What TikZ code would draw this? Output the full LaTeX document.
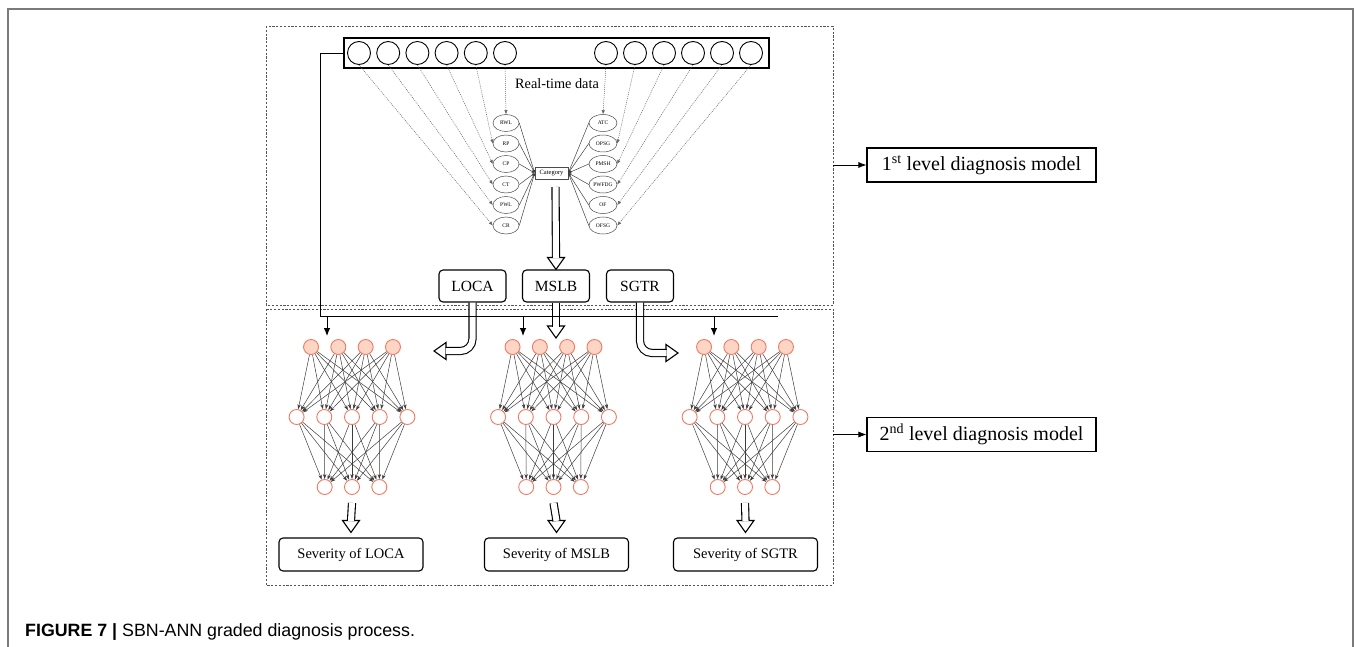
\documentclass[tikz,border=0pt]{standalone}
\usepackage{fontspec}
\setmainfont{Liberation Serif}
\newfontfamily\capfont{Liberation Sans}
\usetikzlibrary{arrows.meta,shapes.geometric,calc}
\definecolor{frameg}{HTML}{7A7A7A}
\definecolor{dashg}{HTML}{555555}
\definecolor{nodeedge}{HTML}{F07A62}
\definecolor{nodefill}{HTML}{FCD5C4}
\definecolor{edgeg}{HTML}{3C3C3C}
\tikzset{
  inbubble/.style={circle,draw,line width=0.9,minimum size=23,inner sep=0},
  varell/.style={ellipse,draw=black!70,line width=0.5,minimum width=26,minimum height=17,inner sep=0,font=\fontsize{5.5}{5.5}\selectfont},
  faultbox/.style={draw,rounded corners=4,line width=1.1,minimum width=67,minimum height=32,font=\fontsize{15.5}{16}\selectfont},
  sevbox/.style={draw,rounded corners=4,line width=1.1,minimum width=144,minimum height=33,font=\fontsize{14.5}{15}\selectfont},
  levelbox/.style={draw,line width=1.1,minimum width=229,minimum height=34,font=\fontsize{20}{21}\selectfont},
  neuron/.style={circle,draw=nodeedge,fill=white,line width=0.9,minimum size=15,inner sep=0},
  inneuron/.style={neuron,fill=nodefill},
  dashbox/.style={draw=dashg,line width=0.8,dash pattern=on 2.2pt off 1.6pt},
  dotarr/.style={black!60,line width=0.5,dash pattern=on 1pt off 1pt,-{Latex[length=4pt,width=3.5pt]}},
  wire/.style={edgeg,line width=0.5,-{Stealth[length=5pt,width=3.4pt]}},
  hollow/.style={draw=black,double=white,double distance=6pt,line width=1.1},
  hhead/.pic={\draw[fill=white,line width=1.1,line join=miter] (-12,-8.5)--(0,0)--(-12,8.5)--cycle;},
}
\begin{document}
\begin{tikzpicture}[x=1pt,y=-1pt]
\useasboundingbox (0,0) rectangle (1356,647);
\draw[frameg,line width=1.5] (8,647)--(8,9)--(1353,9)--(1353,647);
\draw[dashbox] (266,26) rectangle (833,305);
\draw[dashbox] (266,309) rectangle (833,585);
%
% input layer and variables
\node[draw,line width=1.6,minimum width=425,minimum height=30,inner sep=0] (bar) at (556.5,53) {};
\foreach \i in {0,...,5} \node[inbubble] (in\i) at ({359+29.2*\i},53) {};
\foreach \i in {0,...,5} \node[inbubble] (r\i) at ({606+29*\i},53) {};
\node[font=\fontsize{14.3}{15}\selectfont] (rtd) at (557,84) {Real-time data};
\foreach \t [count=\i] in {RWL,RP,CP,CT,PWL,CR}
  \node[varell] (l\i) at (506,{123+20.5*(\i-1)}) {\t};
\foreach \t [count=\i] in {ATC,OPSG,PMSH,PWFDG,OF,OFSG}
  \node[varell,minimum width=28] (e\i) at (603,{123+20.5*(\i-1)}) {\t};
\node[draw=black!70,line width=0.6,minimum width=33,minimum height=12,inner sep=0,font=\fontsize{6.5}{6.5}\selectfont] (cat) at (551.5,173) {Category};
\foreach \i in {1,...,6} {
  \draw[black!75,line width=0.5,-{Latex[length=3pt,width=2.5pt]}] (l\i.east) -- (cat.west);
  \draw[black!75,line width=0.5,-{Latex[length=3pt,width=2.5pt]}] (e\i.west) -- (cat.east);
}
\draw[dotarr] (in5.south) -- (l1.north);
\draw[dotarr] (r0.south) -- (e1.north);
\foreach \k in {2,...,6} {
  \pgfmathtruncatemacro\s{6-\k}
  \draw[dotarr] (in\s.south) -- (l\k.west);
  \pgfmathtruncatemacro\s{\k-1}
  \draw[dotarr] (r\s.south) -- (e\k.east);
}
%
% first level result
\node[faultbox] (loca) at (472.5,286) {LOCA};
\node[faultbox] (mslb) at (556,286) {MSLB};
\node[faultbox] (sgtr) at (640,286) {SGTR};
\pic[rotate=-90] at (mslb.north) {hhead};
\draw[hollow] (555.5,187) -- ($(mslb.north)+(0,-11.5)$);
%
% networks
\foreach \cx [count=\n] in {352,553.5,745} {
  \foreach \i in {1,...,4} \node[inneuron] (a\n\i) at ({\cx+(\i-2.5)*27.3},347) {};
  \foreach \j in {1,...,5} \node[neuron] (b\n\j) at ({\cx+(\j-3)*27.7},417) {};
  \foreach \k in {1,2,3} \node[neuron] (c\n\k) at ({\cx+(\k-2)*27.3},487) {};
  \foreach \i in {1,...,4} \foreach \j in {1,...,5} \draw[wire] (a\n\i) -- (b\n\j);
  \foreach \j in {1,...,5} \foreach \k in {1,2,3} \draw[wire] (b\n\j) -- (c\n\k);
}
\node[sevbox] (sev1) at (351,554.5) {Severity of LOCA};
\node[sevbox] (sev2) at (556.5,554.5) {Severity of MSLB};
\node[sevbox] (sev3) at (745.5,554.5) {Severity of SGTR};
\foreach \n in {1,2,3} {
  \pic[rotate=-90] at ($(sev\n.north)+(0,-5)$) {hhead};
  \draw[hollow] ($(c\n2.south)+(0,8)$) -- ($(sev\n.north)+(0,-16.5)$);
}
%
% hollow arrows into the networks
\pic[rotate=-90] at (556,338) {hhead};
\draw[hollow] (mslb.south) -- (556,326.5);
\pic[rotate=180] at (434,351) {hhead};
\draw[hollow,rounded corners=12] (loca.south) |- (445.5,351);
\pic at (678,353) {hhead};
\draw[hollow,rounded corners=12] (sgtr.south) |- (666.5,353);
%
% data feed to every network
\coordinate (fl) at (320,53);
\coordinate (fr) at (778,316);
\draw[line width=0.9] (bar.west) -- (fl) |- (fr);
\foreach \x [count=\n] in {327,523,714} {
  \coordinate (f\n) at (\x,316);
  \coordinate (t\n) at (\x,336);
  \draw[line width=0.9,-{Latex[length=8pt,width=6.5pt]}] (f\n) -- (t\n);
}
%
% level labels
\node[levelbox] (lvl1) at (981.5,165) {1\textsuperscript{st} level diagnosis model};
\node[levelbox] (lvl2) at (981.5,434.5) {2\textsuperscript{nd} level diagnosis model};
\coordinate (d1) at (833,165);
\coordinate (d2) at (833,434.5);
\draw[line width=0.8,-{Latex[length=8pt,width=6pt]}] (d1) -- (lvl1);
\draw[line width=0.8,-{Latex[length=8pt,width=6pt]}] (d2) -- (lvl2);
%
\node[anchor=base west,inner sep=0,font=\capfont\fontsize{17.8}{18}\selectfont] (cap) at (25,636) {\textbf{FIGURE 7 |} SBN-ANN graded diagnosis process.};
\end{tikzpicture}
\end{document}
